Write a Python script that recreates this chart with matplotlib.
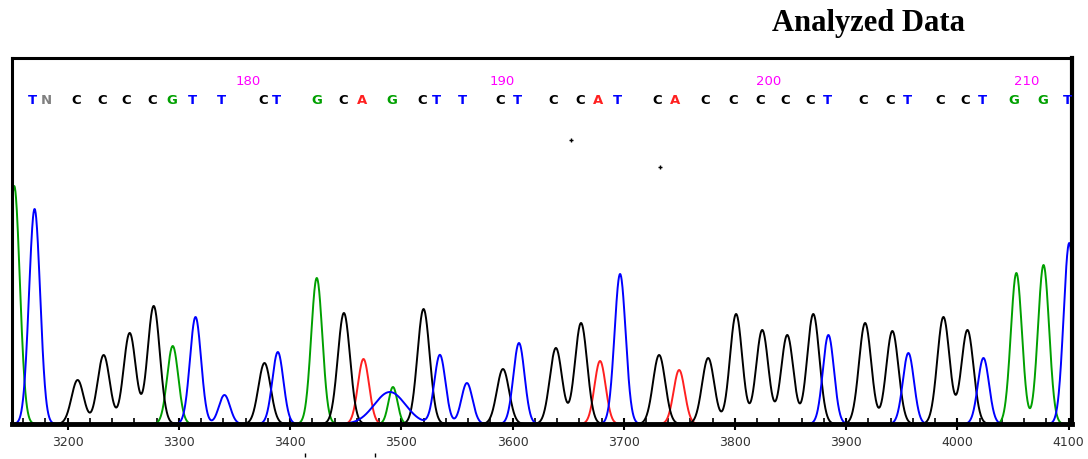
import numpy as np
import matplotlib.pyplot as plt
from matplotlib.ticker import MultipleLocator

# ---- base calls ----
base_pos = [3168.5, 3181, 3208, 3231.5, 3253, 3275.6, 3293.6, 3312.5, 3338.6, 3375.5,
            3388, 3424, 3447.5, 3464.5, 3491.5, 3518.5, 3532, 3555.4, 3588.7, 3604,
            3636.4, 3660.7, 3677, 3694, 3730, 3746, 3773, 3798.4, 3822.7, 3845,
            3867.7, 3883, 3915.4, 3939.7, 3955, 3984.7, 4007, 4022.5, 4050.4, 4076.5, 4099]
base_txt = "TNCCCCGTTCTGCAGCTTCTCCATCACCCCCTCCTCCTGGT"

num_pos = [3362, 3590.5, 3829.9, 4062]
num_txt = ["180", "190", "200", "210"]

# ---- peaks per channel (scan, height, width) ----
c_pos = [3209, 3232.4, 3255.8, 3277.4, 3377, 3448.4, 3520, 3591.4, 3639, 3661.6,
         3731.8, 3775.9, 3801, 3824.5, 3847, 3870.4, 3917, 3941.5, 3987.4, 4009]
c_h = [44, 69, 91, 118, 61, 111, 115, 55, 76, 101, 69, 66, 110, 94, 89, 110, 101, 93, 107, 94]
c_w = [5.5] * len(c_pos)

g_pos = [3152, 3294.5, 3424, 3492.5, 4053, 4077.4]
g_h = [238, 78, 146, 37, 151, 159]
g_w = [5, 5, 5, 4, 5, 5]

t_pos = [3170.3, 3315, 3341, 3389, 3489.7, 3534.7, 3559, 3605.8, 3696.7, 3884, 3955.9, 4023.4, 4100.5]
t_h = [215, 107, 29, 72, 32, 69, 41, 81, 150, 89, 71, 66, 181]
t_w = [5, 5, 5, 5, 14, 5, 5, 5, 5, 5, 5, 5, 5]

a_pos = [3466, 3678.7, 3749.8]
a_h = [65, 63, 54]
a_w = [5, 5, 5]

ticks = [3200, 3300, 3400, 3500, 3600, 3700, 3800, 3900, 4000, 4100]

colors = {'A': '#ff2020', 'C': '#000000', 'G': '#00a000', 'T': '#0000ff', 'N': '#808080'}


def trace(x, pos, h, w):
    y = np.zeros_like(x)
    for p, hh, ww in zip(pos, h, w):
        y += hh * np.exp(-0.5 * ((x - p) / ww) ** 2)
    return y


fig = plt.figure(figsize=(10.88, 4.59), dpi=100)
ax = fig.add_axes([12 / 1088, 35 / 459, 1060 / 1088, 366 / 459])

x = np.linspace(3140, 4110, 4000)
for pos, h, w, b in [(g_pos, g_h, g_w, 'G'), (a_pos, a_h, a_w, 'A'),
                     (c_pos, c_h, c_w, 'C'), (t_pos, t_h, t_w, 'T')]:
    ax.plot(x, trace(x, pos, h, w), color=colors[b], lw=1.4)

for p, b in zip(base_pos, base_txt):
    ax.text(p, 323, b, color=colors[b], fontsize=9.5, ha='center', va='center',
            fontweight='bold')
for p, n in zip(num_pos, num_txt):
    ax.text(p, 342, n, color='#ff00ff', fontsize=9.5, ha='center', va='center')

# stray dots in the scan
ax.plot([3652.6, 3732.7], [284, 257], '+', color='black', ms=3, mew=1)
ax.plot([3413, 3476], [-31, -31], '|', color='black', ms=3, mew=1, clip_on=False)

ax.set_xlim(3150, 4103)
ax.set_ylim(0, 366)
ax.set_xticks(ticks)
ax.xaxis.set_minor_locator(MultipleLocator(20))
ax.tick_params(axis='x', which='major', direction='inout', length=9, width=1.5,
               labelsize=9, labelcolor='#333333', pad=4)
ax.tick_params(axis='x', which='minor', direction='in', length=4, width=1.2)
ax.set_yticks([])
ax.spines['left'].set_linewidth(2.2)
ax.spines['top'].set_linewidth(2.2)
ax.spines['right'].set_linewidth(3)
ax.spines['bottom'].set_linewidth(3.5)

fig.text(868 / 1088, 1 - 23 / 459, "Analyzed Data", fontsize=22, fontweight='bold',
         family='Liberation Serif', ha='center', va='center')

fig.savefig("out.png", dpi=100)
